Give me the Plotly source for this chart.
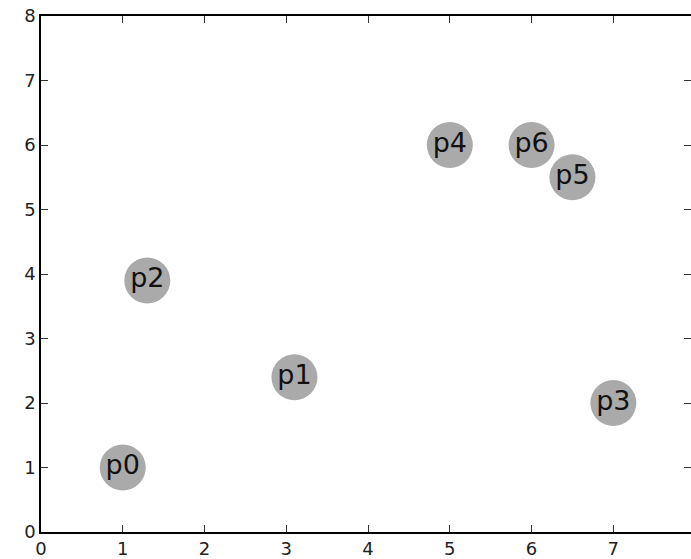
import plotly.graph_objects as go

names = ["p0", "p1", "p2", "p3", "p4", "p5", "p6"]
xs = [1.0, 3.1, 1.3, 7.0, 5.0, 6.5, 6.0]
ys = [1.0, 2.4, 3.9, 2.0, 6.0, 5.5, 6.0]
ticks = [0, 1, 2, 3, 4, 5, 6, 7, 8]

fig = go.Figure()
fig.add_trace(go.Scatter(
    x=xs, y=ys, mode="markers+text", text=names,
    textposition="middle center",
    marker=dict(size=46, color="#aaaaaa", line=dict(width=0)),
    textfont=dict(family="DejaVu Sans", size=27, color="#111111"),
    hoverinfo="skip", showlegend=False, cliponaxis=False,
))
# invisible trace to anchor right-side ticks
fig.add_trace(go.Scatter(x=[0], y=[0], yaxis="y2", mode="markers",
                         marker=dict(opacity=0), showlegend=False, hoverinfo="skip"))

axis_common = dict(
    showgrid=False, zeroline=False, ticks="inside", ticklen=7, tickwidth=1,
    tickcolor="#333333", tickfont=dict(family="DejaVu Sans", size=18, color="#222222"),
    tickvals=ticks, ticktext=[str(t) for t in ticks], automargin=False,
)
fig.update_layout(
    width=691, height=559,
    margin=dict(l=41, r=0, t=16, b=27),
    plot_bgcolor="white", paper_bgcolor="white",
    xaxis=dict(range=[0, 7.95], showline=True, linecolor="black", linewidth=1.5,
               mirror="ticks", ticklabelstandoff=0, **axis_common),
    yaxis=dict(range=[0, 8], showline=True, linecolor="black", linewidth=1.5,
               mirror=False, ticklabelstandoff=0, **axis_common),
    yaxis2=dict(range=[0, 8], overlaying="y", side="right", showline=False,
                showticklabels=False, showgrid=False, zeroline=False,
                ticks="inside", ticklen=7, tickwidth=1, tickcolor="#333333",
                tickvals=ticks, automargin=False),
)
fig.write_html("out.html", config={"displayModeBar": False},
               post_script="document.body.style.margin='0px';document.body.style.overflow='hidden';")
